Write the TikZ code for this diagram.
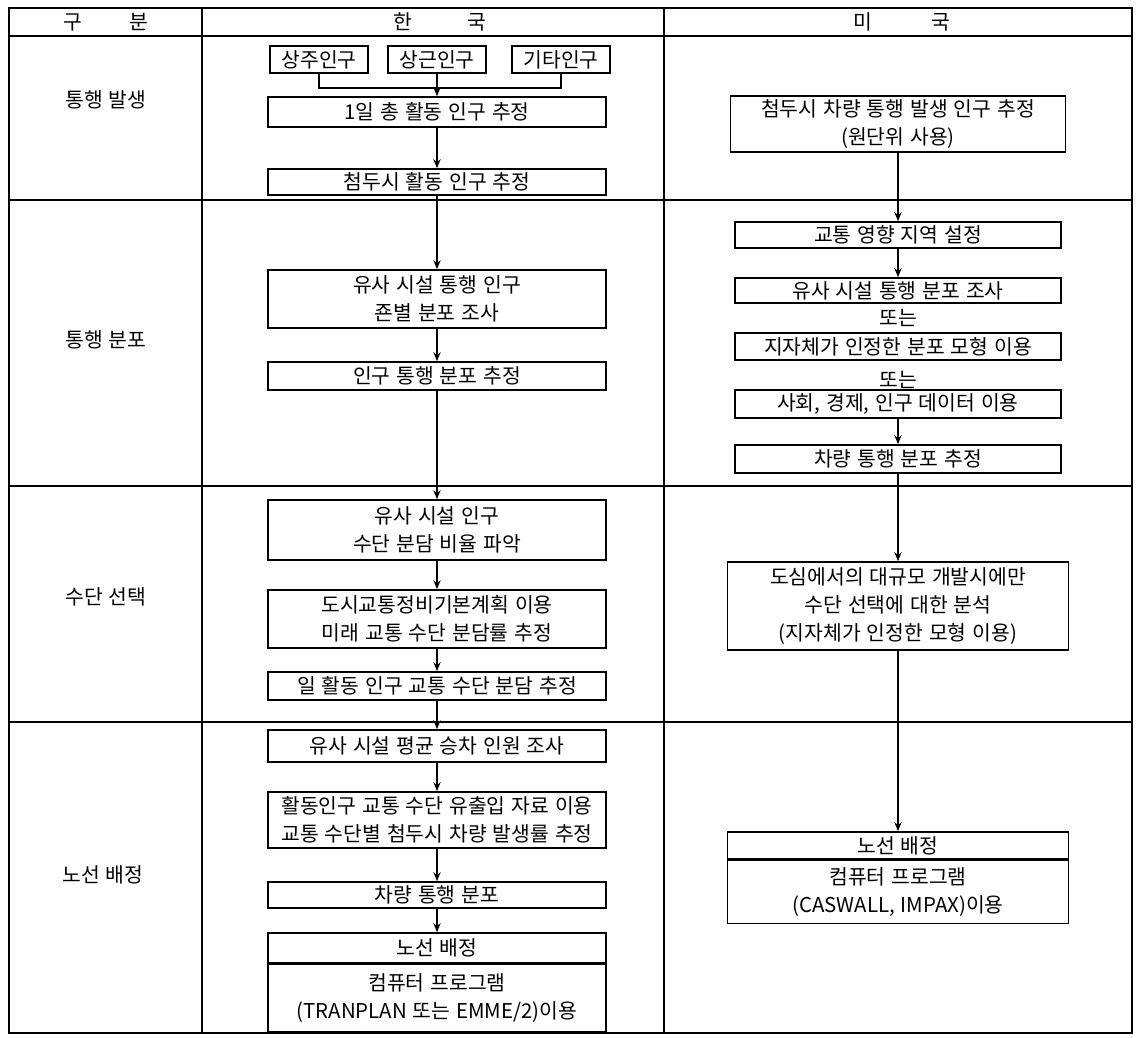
\documentclass[tikz,border=0pt]{standalone}
\usepackage{fontspec}
\setmainfont{Noto Sans CJK KR}[WordSpace=1.3]
\usetikzlibrary{arrows.meta}
\begin{document}
\begin{tikzpicture}[x=0.5pt,y=-0.5pt,
  font=\fontsize{10.2}{14}\selectfont,
  tbl/.style={line width=1.1pt},
  box/.style={draw,line width=0.8pt,inner sep=0pt,align=center,minimum width=169pt},
  ubox/.style={box,minimum width=163pt},
  sbox/.style={draw,line width=0.8pt,inner sep=0pt,minimum width=49pt,minimum height=13.5pt},
  arr/.style={line width=0.8pt,-{Stealth[length=4.5pt,width=3.6pt]}},
  con/.style={line width=0.8pt},
  lbl/.style={inner sep=0pt}]
\useasboundingbox (0,0) rectangle (1137,1038);
% table frame
\draw[tbl] (9,8) rectangle (1132,1033);
\draw[tbl] (9,36) -- (1132,36);
\draw[tbl] (9,200) -- (1132,200);
\draw[tbl] (9,486) -- (1132,486);
\draw[tbl] (9,722) -- (1132,722);
\draw[tbl] (202,8) -- (202,1033);
\draw[tbl] (664,8) -- (664,1033);
% headers and row labels
\node[lbl] (h0) at (106,22) {구\hspace{2.3em}분};
\node[lbl] (h1) at (440,22) {한\hspace{2.7em}국};
\node[lbl] (h2) at (902,22) {미\hspace{2.9em}국};
\node[lbl] (r1) at (106,100) {통행 발생};
\node[lbl] (r2) at (106,340) {통행 분포};
\node[lbl] (r3) at (106,597) {수단 선택};
\node[lbl] (r4) at (103,875) {노선 배정};
% Korea column
\node[sbox] (kA) at (319,59.5) {상주인구};
\node[sbox] (kB) at (437,59.5) {상근인구};
\node[sbox] (kC) at (561,59.5) {기타인구};
\node[box,minimum height=15pt] (k1) at (437,112) {1일 총 활동 인구 추정};
\node[box,minimum height=13pt] (k2) at (437,182) {첨두시 활동 인구 추정};
\node[box,minimum height=29pt] (k3) at (437,299) {유사 시설 통행 인구\\죤별 분포 조사};
\node[box,minimum height=14pt] (k4) at (437,376) {인구 통행 분포 추정};
\node[box,minimum height=30pt] (k5) at (437,530) {유사 시설 인구\\수단 분담 비율 파악};
\node[box,minimum height=29pt] (k6) at (437,619) {도시교통정비기본계획 이용\\미래 교통 수단 분담률 추정};
\node[box,minimum height=14pt] (k7) at (437,686) {일 활동 인구 교통 수단 분담 추정};
\node[box,minimum height=16pt] (k8) at (437,746) {유사 시설 평균 승차 인원 조사};
\node[box,minimum height=28pt] (k9) at (437,820) {활동인구 교통 수단 유출입 자료 이용\\교통 수단별 첨두시 차량 발생률 추정};
\node[box,minimum height=13pt] (k10) at (437,895) {차량 통행 분포};
\node[box,minimum height=15pt] (k11a) at (437,948) {노선 배정};
\node[box,minimum height=33.5pt,anchor=north] (k11b) at (k11a.south) {컴퓨터 프로그램\\(TRANPLAN 또는 EMME/2)이용};
\draw[con] (kA.south) -- ++(0,14) -| (kC.south);
\draw[arr] (kB) -- (k1);
\draw[arr] (k1) -- (k2);
\draw[arr] (k2) -- (k3);
\draw[arr] (k3) -- (k4);
\draw[arr] (k4) -- (k5);
\draw[arr] (k5) -- (k6);
\draw[arr] (k6) -- (k7);
\draw[arr] (k7) -- (k8);
\draw[arr] (k8) -- (k9);
\draw[arr] (k9) -- (k10);
\draw[arr] (k10) -- (k11a);
% USA column
\node[ubox,minimum width=167.5pt,minimum height=28pt] (u1) at (898,124) {첨두시 차량 통행 발생 인구 추정\\(원단위 사용)};
\node[ubox,minimum height=13pt] (u2) at (898,235) {교통 영향 지역 설정};
\node[ubox,minimum height=12.5pt] (u3) at (898,290.5) {유사 시설 통행 분포 조사};
\node[lbl] (o1) at (898,318) {또는};
\node[ubox,minimum height=13.5pt] (u4) at (898,346.5) {지자체가 인정한 분포 모형 이용};
\node[lbl] (o2) at (898,380) {또는};
\node[ubox,minimum height=14pt] (u5) at (898,404) {사회, 경제, 인구 데이터 이용};
\node[ubox,minimum height=14pt] (u6) at (898,459) {차량 통행 분포 추정};
\node[ubox,minimum width=170.5pt,minimum height=44pt] (u7) at (898,606) {도심에서의 대규모 개발시에만\\수단 선택에 대한 분석\\(지자체가 인정한 모형 이용)};
\node[ubox,minimum width=170.5pt,minimum height=13.5pt] (u8a) at (898,845.5) {노선 배정};
\node[ubox,minimum width=170.5pt,minimum height=31.5pt,anchor=north] (u8b) at (u8a.south) {컴퓨터 프로그램\\(CASWALL, IMPAX)이용};
\draw[arr] (u1) -- (u2);
\draw[arr] (u2) -- (u3);
\draw[arr] (u5) -- (u6);
\draw[arr] (u6) -- (u7);
\draw[arr] (u7) -- (u8a);
\end{tikzpicture}
\end{document}
